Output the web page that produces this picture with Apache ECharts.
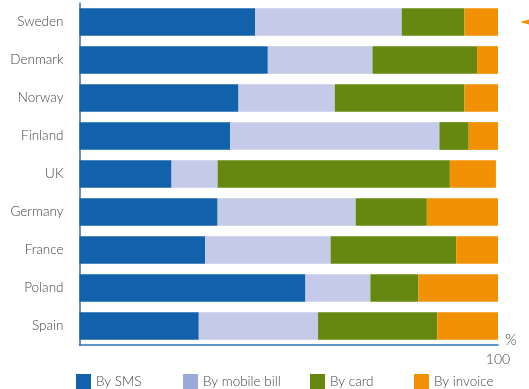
<!DOCTYPE html>
<html>
<head>
<meta charset="utf-8">
<script src="https://cdn.jsdelivr.net/npm/echarts@6/dist/echarts.min.js"></script>
<style>
  html, body { margin: 0; padding: 0; background: #fff; }
</style>
</head>
<body>
<div id="main" style="width:529px;height:389px;"></div>
<script>
var countries = ['Sweden', 'Denmark', 'Norway', 'Finland', 'UK', 'Germany', 'France', 'Poland', 'Spain'];
var sms = [42, 45, 38, 36, 22, 33, 30, 54, 28.5];
var mobileBill = [35, 25, 23, 50, 11, 33, 30, 15.5, 28.5];
var card = [15, 25, 31, 7, 55.5, 17, 30, 11.5, 28.5];
var invoice = [8, 5, 8, 7, 11, 17, 10, 19, 14.5];
var xTicks = [100];

var fontFam = 'Lato, "Open Sans", sans-serif';
var textCol = '#454545';
var chart = echarts.init(document.getElementById('main'));

function barSeries(name, data, color) {
  return {
    name: name,
    type: 'bar',
    stack: 'total',
    barCategoryGap: '27%',
    itemStyle: { color: color },
    data: data
  };
}

function oneLegend(name, left, iconColor) {
  return {
    data: [{ name: name, icon: 'rect', itemStyle: { color: iconColor } }],
    left: left,
    top: 374,
    padding: 0,
    itemWidth: 15,
    itemHeight: 15,
    itemGap: 5,
    selectedMode: false,
    textStyle: { fontFamily: fontFam, fontSize: 13.5, fontWeight: 300, color: textCol }
  };
}

var series = [
  barSeries('By SMS', sms, '#1261ab'),
  barSeries('By mobile bill', mobileBill, '#c4cae7'),
  barSeries('By card', card, '#668811'),
  barSeries('By invoice', invoice, '#f29104')
];

// small orange pointer next to Sweden
series[3].markPoint = {
  silent: true,
  symbol: 'triangle',
  symbolSize: [8, 14],
  symbolRotate: 90,
  symbolOffset: [29, 0],
  itemStyle: { color: '#f29104' },
  label: { show: false },
  data: [{ coord: [100, 'Sweden'] }]
};

var option = {
  animation: false,
  grid: {
    left: 79.5,
    right: 31,
    top: 3,
    bottom: 44,
    outerBoundsMode: 'none'
  },
  legend: [
    oneLegend('By SMS', 76, '#1261ab'),
    oneLegend('By mobile bill', 183, '#9caad9'),
    oneLegend('By card', 310, '#668811'),
    oneLegend('By invoice', 414, '#f29104')
  ],
  xAxis: {
    type: 'value',
    min: 0,
    max: 100,
    interval: 100,
    name: '%',
    nameLocation: 'end',
    nameGap: 7,
    nameTextStyle: { fontFamily: fontFam, fontSize: 15, fontWeight: 300, color: textCol, verticalAlign: 'bottom', lineHeight: 10 },
    axisLine: { show: true, lineStyle: { color: '#2f6fb8', width: 1.5 } },
    axisTick: { show: false },
    splitLine: { show: false },
    axisLabel: {
      margin: 7,
      fontFamily: fontFam,
      fontSize: 14,
      fontWeight: 300,
      color: textCol,
      formatter: function (v) { return xTicks.indexOf(v) >= 0 ? String(v) : ''; }
    }
  },
  yAxis: {
    type: 'category',
    inverse: true,
    data: countries,
    axisLine: { show: true, lineStyle: { color: '#2f6fb8', width: 1.5 } },
    axisTick: { show: false },
    axisLabel: { margin: 16, fontFamily: fontFam, fontSize: 13.5, fontWeight: 300, color: textCol }
  },
  series: series
};

chart.setOption(option);
</script>
</body>
</html>
